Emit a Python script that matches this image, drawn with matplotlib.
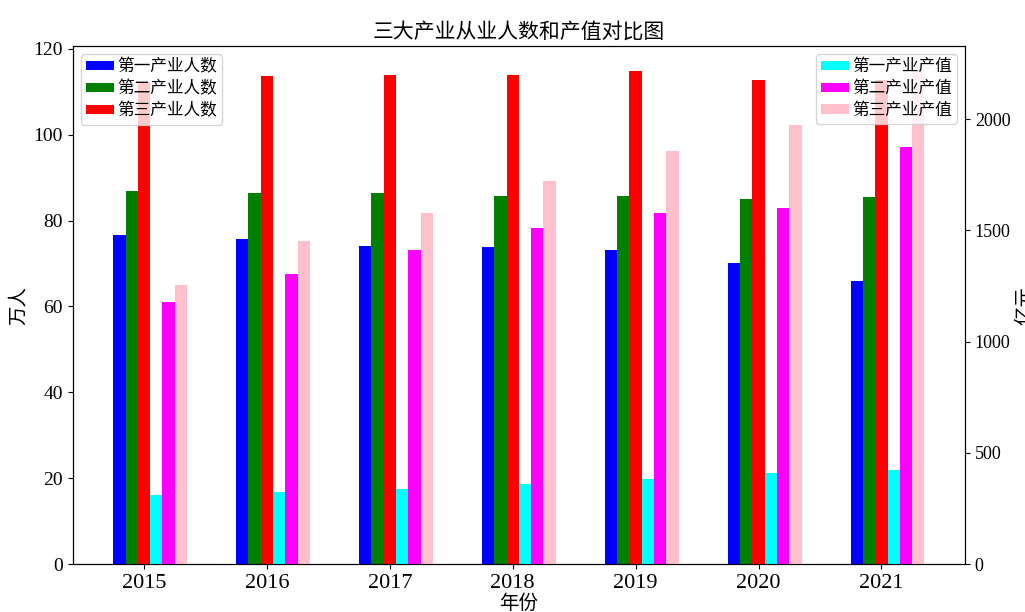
import matplotlib
matplotlib.use("Agg")
import matplotlib.pyplot as plt
import numpy as np

plt.rcParams['font.family'] = ['Liberation Serif', 'Noto Sans CJK SC']
plt.rcParams['axes.unicode_minus'] = False

years = ['2015', '2016', '2017', '2018', '2019', '2020', '2021']

# 从业人数 (万人)
people1 = [76.6, 75.8, 74.1, 73.8, 73.1, 70.2, 65.9]
people2 = [86.9, 86.4, 86.4, 85.7, 85.7, 85.0, 85.5]
people3 = [112.3, 113.6, 114.0, 114.0, 114.9, 112.8, 112.8]

# 产值 (亿元)
gdp1 = [311, 324, 338, 362, 384, 408, 423]
gdp2 = [1180, 1302, 1410, 1512, 1578, 1602, 1877]
gdp3 = [1255, 1452, 1578, 1722, 1859, 1976, 2218]

x = np.arange(len(years))
w = 0.1

fig = plt.figure(figsize=(10.25, 6.12), dpi=100)
ax1 = fig.add_axes([0.0709, 0.0784, 0.8706, 0.8464])

leg_kw = dict(fontsize=12, handlelength=1.7, handleheight=0.5,
              handletextpad=0.15, labelspacing=0.35, borderpad=0.3)

ax1.bar(x - 2 * w, people1, w, color='blue', label='第一产业人数')
ax1.bar(x - w, people2, w, color='green', label='第二产业人数')
ax1.bar(x, people3, w, color='red', label='第三产业人数')
ax1.set_ylabel('万人', fontsize=14)
ax1.set_xlabel('年份', fontsize=14, labelpad=1)
ax1.set_xticks(x)
ax1.set_xticklabels(years, fontsize=16)
ax1.tick_params(axis='y', labelsize=14)
ax1.legend(loc='upper left', **leg_kw)

ax2 = ax1.twinx()  # 产值用右轴
ax2.bar(x + w, gdp1, w, color='cyan', label='第一产业产值')
ax2.bar(x + 2 * w, gdp2, w, color='magenta', label='第二产业产值')
ax2.bar(x + 3 * w, gdp3, w, color='pink', label='第三产业产值')
ax2.set_ylabel('亿元', fontsize=14)
ax2.tick_params(axis='y', labelsize=13)
ax2.legend(loc='upper right', **leg_kw)

ax1.set_title('三大产业从业人数和产值对比图', fontsize=15)

fig.savefig('out.png', dpi=100)
